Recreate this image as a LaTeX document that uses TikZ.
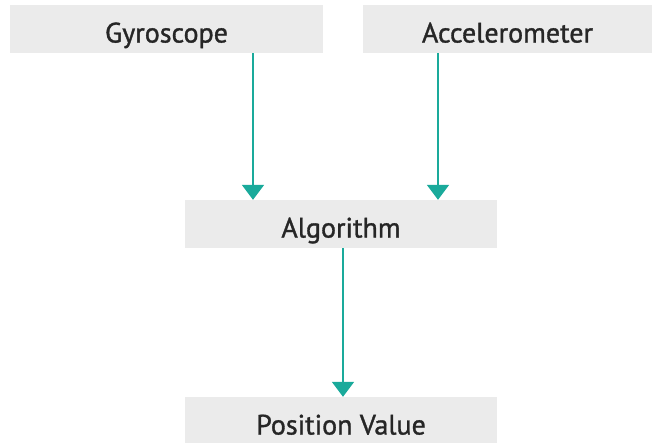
\documentclass[tikz,border=0pt]{standalone}
\usepackage{fontspec}
\setmainfont{PT Sans}
\newfontfamily\dinfont{PT Sans}[FakeBold=1.2]
\usetikzlibrary{arrows.meta}
\definecolor{boxfill}{HTML}{EBEBEB}
\definecolor{teal1}{HTML}{1AAA9B}
\definecolor{txt}{HTML}{262626}
\begin{document}
\begin{tikzpicture}[x=1pt,y=-1pt,
  box/.style={fill=boxfill,draw=none,inner sep=0pt,minimum height=48pt,text height=27pt,text depth=0pt,text=txt,font=\dinfont\fontsize{28}{30}\selectfont},
  arr/.style={draw=teal1,line width=2pt,-{Triangle[width=22pt,length=15pt]}}]
\useasboundingbox (0,0) rectangle (663,442);
\node[box,minimum width=313pt] (gyro) at (166.5,29) {Gyroscope};
\node[box,minimum width=289pt] (acc) at (507.5,29) {Accelerometer};
\node[box,minimum width=312pt] (alg) at (341,224) {Algorithm};
\node[box,minimum width=312pt] (pos) at (341,421) {Position Value};
\coordinate (g) at (253,0);
\coordinate (a) at (438,0);
\coordinate (m) at (343,0);
\draw[arr] (gyro.south -| g) -- (alg.north -| g);
\draw[arr] (acc.south -| a) -- (alg.north -| a);
\draw[arr] (alg.south -| m) -- (pos.north -| m);
\end{tikzpicture}
\end{document}
